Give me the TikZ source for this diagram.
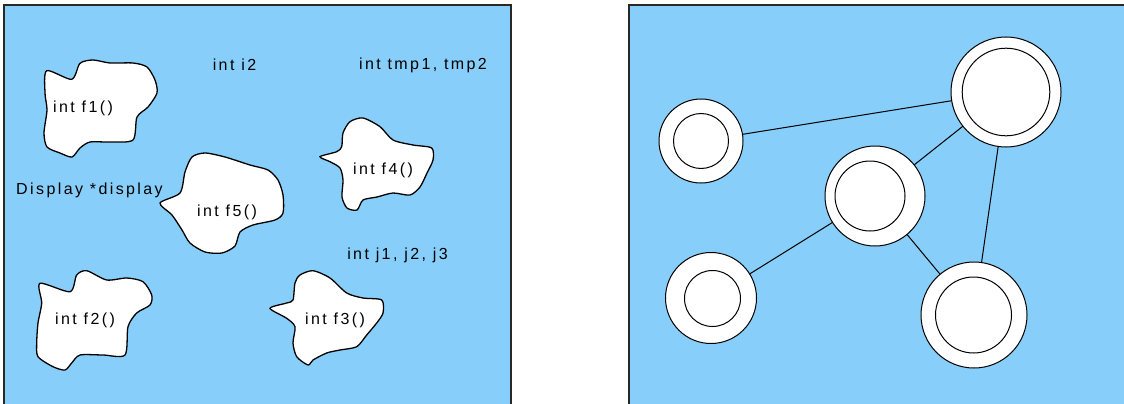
\documentclass[tikz,border=0pt]{standalone}
\usepackage{fontspec}
\setmainfont{Liberation Sans}[LetterSpace=15]
\definecolor{panelblue}{RGB}{135,206,250}
\definecolor{frame}{RGB}{40,40,40}
\tikzset{
  panel/.style={fill=panelblue},
  paneledge/.style={draw=frame, line width=1.4pt},
  blob/.style={fill=white, draw=black, line width=1.3pt},
  label/.style={inner sep=0pt, font=\fontsize{16}{18}\selectfont},
  ring/.style={circle, fill=white, draw=black, line width=1pt, inner sep=0pt, outer sep=0pt},
  core/.style={draw=black, line width=1pt},
  link/.style={draw=black, line width=1pt}
}
\begin{document}
\begin{tikzpicture}[x=1pt,y=-1pt]
\useasboundingbox (0,0) rectangle (1124,404);

% ---------- left panel: functions and globals ----------
\fill[panel] (4,5) rectangle (511,410);
\draw[paneledge] (4,410) -- (4,5) -- (511,5) -- (511,410);

% function f1
\draw[blob] plot[smooth cycle, tension=0.45] coordinates {
  (46.7,70.7) (71.7,79.3) (80,63.3) (93,60) (110,63) (133,63) (147,67)
  (155,80) (157,93) (148,107) (137,117) (133,140) (110,142) (90,142)
  (80,148) (72,157) (60,153) (47,147) (44,133) (47,110) (45,93)};
\node[label] (f1) at (83,108) {int f1()};

% function f5
\draw[blob] plot[smooth cycle, tension=0.45] coordinates {
  (160,203) (180,193) (185,172) (192,157) (205,153) (225,157) (250,165)
  (268,170) (278,180) (283,195) (283,213) (275,220) (253,225) (240,232)
  (235,246) (222,253) (205,252) (190,243) (182,230) (172,215)};
\node[label] (f5) at (227,212) {int f5()};

% function f4
\draw[blob] plot[smooth cycle, tension=0.45] coordinates {
  (320,156.7) (336.7,151.7) (341.7,146.7) (343,133) (350,121.7) (363,118)
  (380,126.7) (393,140) (413,145) (431.7,148) (433,160) (427,173) (420,187)
  (410,195) (393,193) (377,197) (363,200) (357,210) (347,208) (342,197)
  (343,180) (340,168) (330,161.7)};
\node[label] (f4) at (383,170) {int f4()};

% function f2
\draw[blob] plot[smooth cycle, tension=0.45] coordinates {
  (40,283.3) (70,291.7) (76.7,275) (86.7,270.7) (106.7,280) (126.7,278)
  (143,281.7) (151.7,295) (150,305) (136.7,313) (128,326.7) (125,355)
  (103,355) (80,355) (71.7,363) (65,370) (53,366.7) (38,356.7) (36.7,343)
  (38,323) (41.7,303)};
\node[label] (f2) at (85,320) {int f2()};

% function f3
\draw[blob] plot[smooth cycle, tension=0.45] coordinates {
  (270,308.3) (286.7,303) (293,300) (295,283) (300,275) (313,270.7)
  (330,278) (346.7,293) (363,298) (381.7,300) (383,313) (376.7,323)
  (366.7,335) (356.7,346.7) (340,350) (326.7,353) (313,360) (308,365)
  (296.7,356.7) (293,343) (295,326.7) (286.7,318.3)};
\node[label] (f3) at (335,320) {int f3()};

% global variables
\node[label] (gi2)  at (234.5,65) {int i2};
\node[label] (gtmp) at (423,65) {int tmp1, tmp2};
\node[label] (gdsp) at (89.5,190) {Display *display};
\node[label] (gj)   at (397.5,255) {int j1, j2, j3};

% ---------- right panel: process graph ----------
\fill[panel] (629,5) rectangle (1130,410);
\draw[paneledge] (629,410) -- (629,5) -- (1130,5);

\node[ring, minimum size=84pt]  (c1) at (701,141) {};
\node[ring, minimum size=110pt] (c2) at (1006,92) {};
\node[ring, minimum size=100pt] (c3) at (875,196) {};
\node[ring, minimum size=91pt]  (c4) at (711,298) {};
\node[ring, minimum size=106pt] (c5) at (974,315) {};

\draw[core] (701,141) circle (27.5);
\draw[core] (1006,92) circle (43.8);
\draw[core] (870,196) circle (35);
\draw[core] (712.5,298.5) circle (28);
\draw[core] (973.5,315) circle (38);

\draw[link] (c1) -- (c2);
\draw[link] (c2) -- (c3);
\draw[link] (c2) -- (c5);
\draw[link] (c3) -- (c4);
\draw[link] (c3) -- (c5);
\end{tikzpicture}
\end{document}
